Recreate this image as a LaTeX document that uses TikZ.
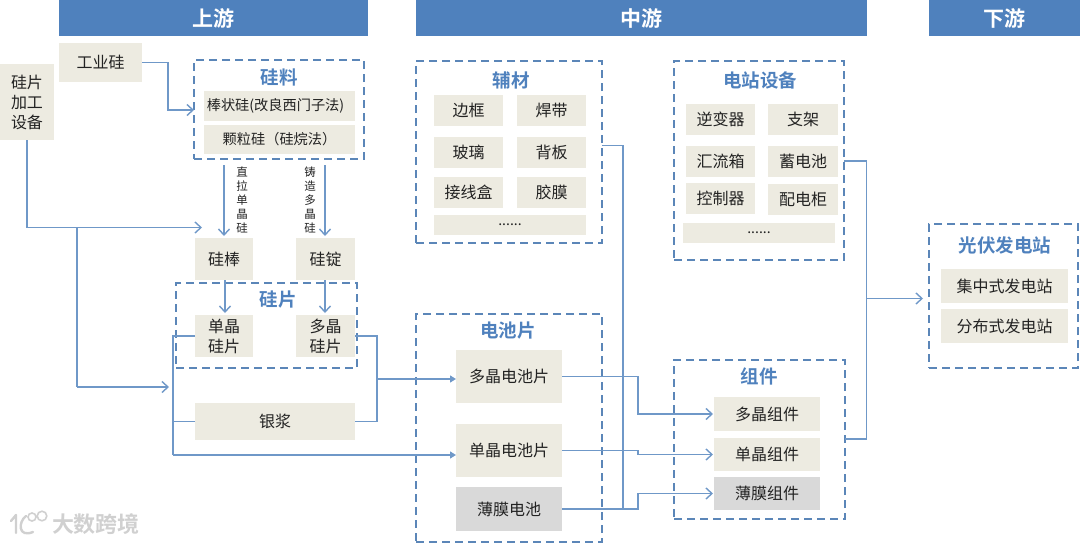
\documentclass[tikz,border=0pt]{standalone}
\usepackage{fontspec}
\setmainfont[BoldFont={Noto Sans CJK SC Bold}]{Noto Sans CJK SC}
\usetikzlibrary{arrows.meta,calc}
\definecolor{hdr}{HTML}{4F81BD}
\definecolor{dsh}{HTML}{5B86B8}
\definecolor{lnk}{HTML}{6F98C8}
\definecolor{sand}{HTML}{EDEBE1}
\definecolor{ash}{HTML}{D9D9D9}
\definecolor{ink}{HTML}{222222}
\definecolor{wmgrey}{HTML}{D0D0D0}
\newcommand{\bx}[7][]{\node[#2,minimum width={(#5-#3)*1pt},minimum height={(#6-#4)*1pt},#1] (#7) at ({(#3+#5)/2},{(#4+#6)/2})}
\tikzset{
  every node/.style={inner sep=0pt,outer sep=0pt,align=center,text=ink,font=\fontsize{16}{20}\selectfont},
  hd/.style={fill=hdr,text=white,font=\fontsize{21}{24}\selectfont\bfseries},
  sandbox/.style={fill=sand},
  ashbox/.style={fill=ash},
  group/.style={draw=dsh,line width=1.8pt,dash pattern=on 8pt off 5pt},
  ttl/.style={text=hdr,font=\fontsize{18.5}{22}\selectfont\bfseries},
  vert/.style={font=\fontsize{11.5}{14}\selectfont},
  link/.style={draw=lnk,line width=1.4pt},
  open/.style={link,-{Straight Barb[length=6pt,width=11pt]}},
  solid tip/.style={link,-{Triangle[length=6pt,width=7pt]}},
}
\begin{document}
\begin{tikzpicture}[x=1pt,y=-1pt]
\useasboundingbox (0,0) rectangle (1080,544);
% headers
\bx{hd}{59}{0}{368}{36}{hup} {上游};
\bx{hd}{416}{0}{867}{36}{hmid} {中游};
\bx{hd}{929}{0}{1080}{36}{hdown} {下游};
% group frames
\bx{group}{194}{60}{364}{159}{gliao} {};
\bx{group}{176}{283}{357}{368}{gpian} {};
\bx{group}{416}{61}{602}{243}{gfu} {};
\bx{group}{674}{61}{844}{260}{gdev} {};
\bx{group}{416}{314}{602}{542}{gcell} {};
\bx{group}{674}{360}{845}{519}{gmod} {};
\bx{group}{929}{224}{1078}{368}{gpv} {};
% titles
\node[ttl] (tliao) at (279,77.5) {硅料};
\node[ttl] (tpian) at (278,299.5) {硅片};
\node[ttl] (tfu) at (511,80.5) {辅材};
\node[ttl] (tdev) at (760,80.5) {电站设备};
\node[ttl] (tcell) at (508,330.5) {电池片};
\node[ttl] (tmod) at (759,376.5) {组件};
\node[ttl] (tpv) at (1005,245.5) {光伏发电站};
% upstream boxes
\bx{sandbox}{59}{43}{142}{82}{gongye} {工业硅};
\bx{sandbox}{0}{64}{54}{140}{equip} {硅片\\加工\\设备};
\bx{sandbox}{204}{91}{355}{121}{bang} {\fontsize{14.2}{18}\selectfont 棒状硅(改良西门子法)\hspace*{8pt}};
\bx{sandbox}{204}{125}{355}{154}{keli} {\fontsize{14.2}{18}\selectfont 颗粒硅（硅烷法）};
\bx{sandbox}{195}{238}{253}{280}{guibang} {硅棒};
\bx{sandbox}{296}{238}{355}{280}{guiding} {硅锭};
\bx{sandbox}{195}{315}{253}{357}{dan} {单晶\\硅片};
\bx{sandbox}{296}{315}{355}{357}{duo} {多晶\\硅片};
\bx{sandbox}{195}{403}{355}{440}{yin} {银浆};
\node[vert] (vzl) at (242,200) {直\\拉\\单\\晶\\硅};
\node[vert] (vzz) at (310,200) {铸\\造\\多\\晶\\硅};
% auxiliary
\bx{sandbox}{434}{95}{503}{126}{a1} {边框};
\bx{sandbox}{517}{95}{586}{126}{a2} {焊带};
\bx{sandbox}{434}{137}{503}{168}{a3} {玻璃};
\bx{sandbox}{517}{137}{586}{168}{a4} {背板};
\bx{sandbox}{434}{177}{503}{208}{a5} {接线盒};
\bx{sandbox}{517}{177}{586}{208}{a6} {胶膜};
\bx{sandbox}{434}{215}{586}{235}{a7} {\fontsize{14}{16}\selectfont ......};
% equipment
\bx{sandbox}{686}{104}{755}{135}{d1} {逆变器};
\bx{sandbox}{768}{104}{838}{135}{d2} {支架};
\bx{sandbox}{686}{146}{755}{177}{d3} {汇流箱};
\bx{sandbox}{768}{146}{838}{177}{d4} {蓄电池};
\bx{sandbox}{686}{183}{755}{214}{d5} {控制器};
\bx{sandbox}{768}{184}{838}{215}{d6} {配电柜};
\bx{sandbox}{683}{223}{835}{243}{d7} {\fontsize{14}{16}\selectfont ......};
% cells
\bx{sandbox}{456}{350}{562}{403}{cduo} {多晶电池片};
\bx{sandbox}{456}{424}{562}{477}{cdan} {单晶电池片};
\bx{ashbox}{456}{487}{562}{531}{cbo} {薄膜电池};
% modules
\bx{sandbox}{714}{397}{820}{431}{mduo} {多晶组件};
\bx{sandbox}{714}{438}{820}{471}{mdan} {单晶组件};
\bx{ashbox}{714}{477}{820}{510}{mbo} {薄膜组件};
% stations
\bx{sandbox}{941}{269}{1068}{303}{pv1} {集中式发电站};
\bx{sandbox}{941}{309}{1068}{343}{pv2} {分布式发电站};
% free ends
\coordinate (jeq) at (77,227.5);
\coordinate (jbus) at (77,387);
\coordinate (abang) at (194,110);
\coordinate (aeq) at (202,227.5);
\coordinate (abus) at (169,387);
\coordinate (lleft) at (173,336);
\coordinate (lbot) at (173,455);
\coordinate (lright) at (377,336);
\coordinate (jfu) at (623,145.5);
\coordinate (jbo) at (623,509);
\coordinate (jmid) at (866.5,298.5);
\coordinate (tippv) at (923,298.5);
% connectors
\draw[open] (gongye.east) -- ++(26,0) |- (abang);
\draw[open] (equip.south -| 27,0) -- (27,227.5) -- (aeq);
\draw[link] (jeq) -- (jbus);
\draw[open] (jbus) -- (abus);
\draw[open,shorten >=2pt] (224,165) -- (guibang.north -| 224,0);
\draw[open,shorten >=2pt] (325,165) -- (guiding.north -| 325,0);
\draw[open,shorten >=2pt] (guibang.south -| 225,0) -- (dan.north -| 225,0);
\draw[open,shorten >=2pt] (guiding.south -| 325,0) -- (duo.north -| 325,0);
\draw[link] (dan.west) -- (lleft) -- (lbot);
\draw[link] (yin.west) -- (lleft |- yin.west);
\draw[solid tip] (lbot) -- (cdan.west |- lbot);
\draw[link] (duo.east) -- (lright) |- (yin.east);
\draw[solid tip] (377,379) -- (cduo.west |- 0,379);
\draw[open,shorten >=1pt] (cduo.east) -- (638,376.5) |- (mduo.west);
\draw[open,shorten >=1pt] (cdan.east) -- (638,450.5) |- (mdan.west);
\draw[open,shorten >=1pt] (cbo.east) -- (638,509) |- (mbo.west);
\draw[link] (gfu.east |- jfu) -- (jfu) -- (jbo);
\draw[link] (gdev.east |- 0,161) -- (866.5,161) -- (866.5,439) -- (gmod.east |- 0,439);
\draw[open] (jmid) -- (tippv);
% watermark
\node[text=wmgrey,font=\fontsize{22}{24}\selectfont\bfseries] (wm) at (96,524) {大数跨境};
\draw[wmgrey,line width=2.4pt,line cap=round,line join=round] (11,521) -- (16,515) -- (16,533);
\draw[wmgrey,line width=2.4pt,line cap=round] (26,516) .. controls (18,522) and (18,538) .. (33,532);
\draw[wmgrey,line width=1.6pt] (32,517) circle (4) (42,516) circle (4.8);
\end{tikzpicture}
\end{document}
